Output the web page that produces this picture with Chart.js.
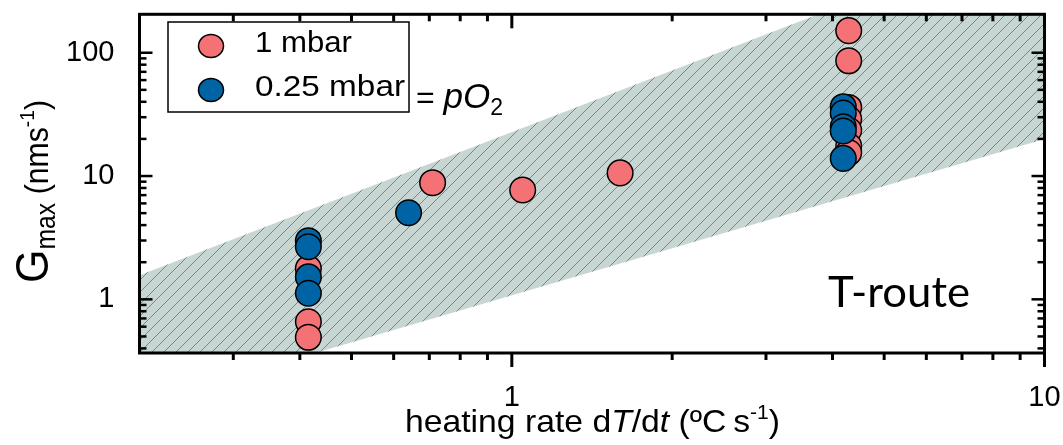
<!DOCTYPE html>
<html>
<head>
<meta charset="utf-8">
<script src="https://cdn.jsdelivr.net/npm/chart.js@4/dist/chart.umd.min.js"></script>
<style>
  html, body { margin: 0; padding: 0; background: #fff; overflow: hidden; }
  #wrap { position: relative; width: 1063px; height: 445px; }
</style>
</head>
<body>
<div id="wrap"><canvas id="c" width="1063" height="445"></canvas></div>
<script>
// Peak growth rate G_max (nm/s) against heating rate dT/dt (°C/s)
const rate1mbar = [0.415, 0.415, 0.415, 0.71, 1.048, 1.597, 4.29, 4.29, 4.29, 4.29, 4.29, 4.29, 4.29];
const gmax1mbar = [1.78, 0.658, 0.492, 8.83, 7.70, 10.6, 151, 86, 36, 29, 23.5, 17.5, 15.5];

const rate025mbar = [0.415, 0.415, 0.415, 0.415, 0.64, 4.19, 4.19, 4.19, 4.19, 4.19];
const gmax025mbar = [2.99, 2.67, 1.52, 1.12, 5.04, 36.5, 32.4, 25.1, 23.2, 13.9];

// T-route band: power-law edges evaluated at the ends of the rate axis
const bandRate  = [0.2, 10];
const bandUpper = [1.57, 1040];
const bandLower = [0.14, 20];

// axis ranges and tick positions
const xRange = [0.2, 10];
const yRange = [0.367, 205];
const xTickValues = [0.3, 0.4, 0.5, 0.6, 0.7, 0.8, 0.9, 1, 2, 3, 4, 5, 6, 7, 8, 9, 10];
const yTickValues = [0.4, 0.5, 0.6, 0.7, 0.8, 0.9, 1, 2, 3, 4, 5, 6, 7, 8, 9,
                     10, 20, 30, 40, 50, 60, 70, 80, 90, 100];

const seriesLabels = ['1 mbar', '0.25 mbar'];
const pink = '#F47276';
const blue = '#0063A3';

const pairs = (xs, ys) => xs.map((v, i) => ({ x: v, y: ys[i] }));
const isDecade = v => { const l = Math.log10(v); return Math.abs(l - Math.round(l)) < 1e-9; };

// diagonal hatch used to fill the band
function hatchPattern() {
  const s = 12;
  const c = document.createElement('canvas');
  c.width = s; c.height = s;
  const g = c.getContext('2d');
  g.fillStyle = '#C8D6D3';
  g.fillRect(0, 0, s, s);
  g.strokeStyle = 'rgba(105,114,112,0.8)';
  g.lineWidth = 1;
  g.beginPath();
  g.moveTo(-2, s + 2); g.lineTo(s + 2, -2);
  g.moveTo(-2, 2); g.lineTo(2, -2);
  g.moveTo(s - 2, s + 2); g.lineTo(s + 2, s - 2);
  g.stroke();
  return g.createPattern(c, 'repeat');
}

const font = (size, style) => (style ? style + ' ' : '') + size + "px 'Liberation Sans', Arial, sans-serif";

// draws a run of differently styled pieces of text along one baseline
function drawRuns(ctx, runs, x, y, targetWidth) {
  let w = 0;
  runs.forEach(r => { ctx.font = r.font; r.w = ctx.measureText(r.t).width; w += r.w; });
  const sx = targetWidth ? targetWidth / w : 1;
  ctx.save();
  ctx.translate(x, y);
  ctx.scale(sx, 1);
  ctx.textBaseline = 'alphabetic';
  ctx.textAlign = 'left';
  let cx = 0;
  runs.forEach(r => { ctx.font = r.font; ctx.fillText(r.t, cx, r.dy || 0); cx += r.w; });
  ctx.restore();
}

// scales keep the plot box fixed: no extra room for overhanging labels
const noPad = s => { s.paddingTop = 0; s.paddingBottom = 0; s.paddingLeft = 0; s.paddingRight = 0; };

// closed frame with inward ticks on top/left/right and outward ticks below
const framePlugin = {
  id: 'frame',
  afterDatasetsDraw(chart) {
    const { ctx, chartArea: a, scales: { x, y } } = chart;
    ctx.save();
    ctx.strokeStyle = '#000';
    ctx.lineCap = 'butt';
    const seg = (x1, y1, x2, y2, w) => {
      ctx.lineWidth = w; ctx.beginPath(); ctx.moveTo(x1, y1); ctx.lineTo(x2, y2); ctx.stroke();
    };
    x.ticks.forEach(t => {
      const px = x.getPixelForValue(t.value);
      const len = t.major ? 14 : 7;
      seg(px, a.bottom, px, a.bottom + len, 3);
      seg(px, a.top, px, a.top + len, 3);
    });
    y.ticks.forEach(t => {
      const py = y.getPixelForValue(t.value);
      const len = t.major ? 13 : 7;
      seg(a.left, py, a.left + len, py, 2.5);
      seg(a.right, py, a.right - len, py, 2.5);
    });
    ctx.lineWidth = 3;
    ctx.strokeRect(a.left, a.top, a.right - a.left, a.bottom - a.top);
    ctx.restore();
  },
  afterDraw(chart) {
    const { ctx } = chart;
    ctx.save();

    // legend box
    ctx.fillStyle = '#fff';
    ctx.fillRect(168, 22, 241, 90);
    ctx.strokeStyle = '#000';
    ctx.lineWidth = 1.5;
    ctx.strokeRect(168, 22, 241, 90);
    const rows = [46, 90];
    const textWidths = [97, 150];
    chart.data.datasets.filter(d => d.type !== 'line').forEach((d, i) => {
      ctx.beginPath();
      ctx.ellipse(211, rows[i], 12.5, 11.5, 0, 0, Math.PI * 2);
      ctx.fillStyle = d.backgroundColor;
      ctx.fill();
      ctx.lineWidth = 1.5;
      ctx.strokeStyle = '#000';
      ctx.stroke();
      ctx.fillStyle = '#000';
      drawRuns(ctx, [{ t: d.label, font: font(29) }], 255, rows[i] + 6, textWidths[i]);
    });

    // "= pO2" beside the legend
    ctx.fillStyle = '#000';
    drawRuns(ctx, [
      { t: '= ', font: font(32) },
      { t: 'pO', font: font(35, 'italic') },
      { t: '2', font: font(23), dy: 7 }
    ], 416, 108);

    // band label
    drawRuns(ctx, [{ t: 'T-route', font: "42px Lato, 'Open Sans', sans-serif" }], 828, 307, 142);

    // x axis title
    drawRuns(ctx, [
      { t: 'heating rate d', font: font(32) },
      { t: 'T', font: font(32, 'italic') },
      { t: '/d', font: font(32) },
      { t: 't', font: font(32, 'italic') },
      { t: ' (ºC\u2009s', font: font(32) },
      { t: '-1', font: font(20), dy: -13 },
      { t: ')', font: font(32) }
    ], 405, 432, 375);

    // y axis title, rotated
    ctx.save();
    ctx.translate(48, 283);
    ctx.rotate(-Math.PI / 2);
    drawRuns(ctx, [
      { t: 'G', font: font(47) },
      { t: 'max', font: font(27), dy: 7 },
      { t: ' (nms', font: font(33) },
      { t: '-1', font: font(21), dy: -14 },
      { t: ')', font: font(33) }
    ], 0, 0, 183);
    ctx.restore();

    ctx.restore();
  }
};

const hatch = hatchPattern();

new Chart(document.getElementById('c'), {
  type: 'scatter',
  data: {
    datasets: [
      {
        type: 'line', label: 'band upper', data: pairs(bandRate, bandUpper),
        borderWidth: 0, borderColor: 'rgba(0,0,0,0)', pointRadius: 0,
        fill: '+1', backgroundColor: hatch, order: 3
      },
      {
        type: 'line', label: 'band lower', data: pairs(bandRate, bandLower),
        borderWidth: 0, borderColor: 'rgba(0,0,0,0)', pointRadius: 0,
        fill: false, order: 3
      },
      {
        label: seriesLabels[0], data: pairs(rate1mbar, gmax1mbar),
        backgroundColor: pink, borderColor: '#000', borderWidth: 1.5,
        pointRadius: 12.8, order: 2
      },
      {
        label: seriesLabels[1], data: pairs(rate025mbar, gmax025mbar),
        backgroundColor: blue, borderColor: '#000', borderWidth: 1.5,
        pointRadius: 12.8, order: 1
      }
    ]
  },
  options: {
    responsive: false,
    animation: false,
    events: [],
    layout: { padding: { top: 14.3, right: 18.5, left: 0, bottom: 0 } },
    plugins: { legend: { display: false }, tooltip: { enabled: false } },
    scales: {
      x: {
        type: 'logarithmic',
        min: xRange[0], max: xRange[1],
        grid: { display: false },
        border: { display: false },
        afterBuildTicks: s => { s.ticks = xTickValues.map(v => ({ value: v, major: isDecade(v) })); },
        afterFit: s => { s.height = 92; noPad(s); },
        ticks: {
          autoSkip: false, maxRotation: 0, padding: 20,
          color: '#000', font: { family: "'Liberation Sans', Arial, sans-serif", size: 29 },
          callback: v => isDecade(v) ? String(v) : ''
        }
      },
      y: {
        type: 'logarithmic',
        min: yRange[0], max: yRange[1],
        grid: { display: false },
        border: { display: false },
        afterBuildTicks: s => { s.ticks = yTickValues.map(v => ({ value: v, major: isDecade(v) })); },
        afterFit: s => { s.width = 139.5; noPad(s); },
        ticks: {
          autoSkip: false, padding: 17,
          color: '#000', font: { family: "'Liberation Sans', Arial, sans-serif", size: 29 },
          callback: v => isDecade(v) ? String(v) : ''
        }
      }
    }
  },
  plugins: [framePlugin]
});
</script>
</body>
</html>
